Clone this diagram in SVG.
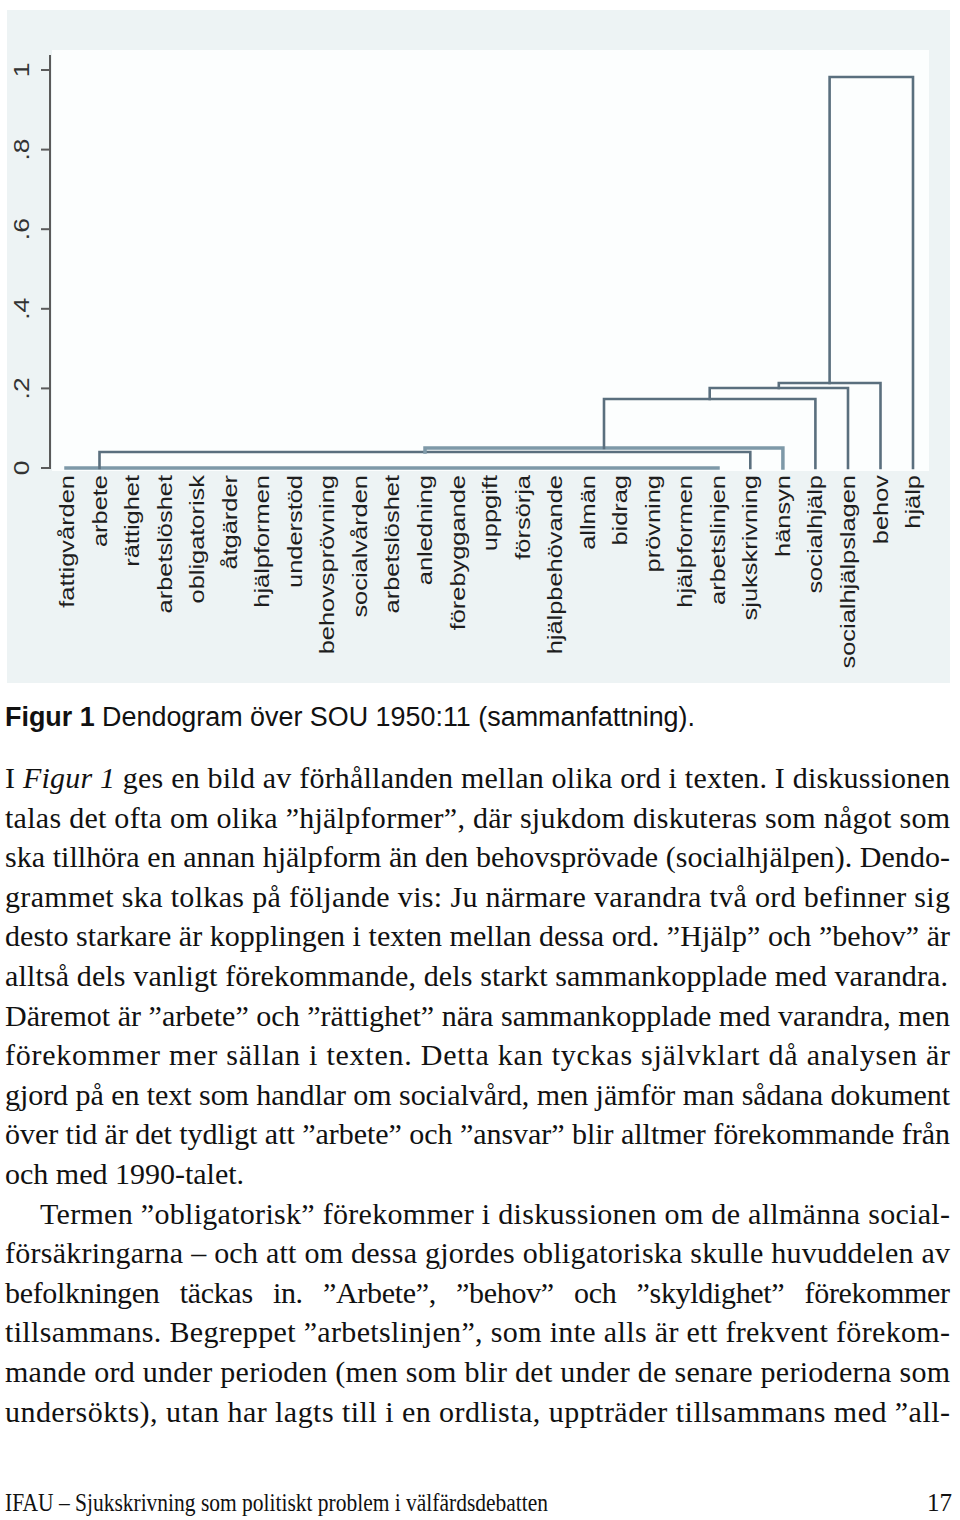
<svg xmlns="http://www.w3.org/2000/svg" width="960" height="1520" viewBox="0 0 960 1520">
<defs>
<style>
.lbl{font-family:"Liberation Sans",Arial,sans-serif;font-size:20px;fill:#1e1e1e}
.tk{font-family:"Liberation Sans",Arial,sans-serif;font-size:22px;fill:#333}
.br{fill:none;stroke:#5a6f7e;stroke-width:2.6;stroke-linecap:square}
.bl{fill:none;stroke:#7e99a8;stroke-width:3.5;stroke-linecap:square}
.body{font-family:"Liberation Serif","Times New Roman",serif;font-size:30px;fill:#111}
.cap{font-family:"Liberation Sans",Arial,sans-serif;font-size:27px;fill:#111}
</style>
</defs>
<rect width="960" height="1520" fill="#ffffff"/>
<g id="chart-panel">
<rect x="7" y="10" width="943" height="673" fill="#edf3f4"/>
<rect x="52" y="50" width="877" height="421" fill="#fcfefe"/>
</g>
<g id="y-axis">
<line x1="50" y1="55" x2="50" y2="469" stroke="#5a5a5a" stroke-width="2"/>
<g stroke="#5a5a5a" stroke-width="2">
<line x1="41" y1="468" x2="50" y2="468"/>
<line x1="41" y1="388.4" x2="50" y2="388.4"/>
<line x1="41" y1="308.8" x2="50" y2="308.8"/>
<line x1="41" y1="229.2" x2="50" y2="229.2"/>
<line x1="41" y1="149.6" x2="50" y2="149.6"/>
<line x1="41" y1="70" x2="50" y2="70"/>
</g>
<text class="tk" text-anchor="middle" transform="translate(29,468) rotate(-90) scale(1.2,1)">0</text>
<text class="tk" text-anchor="middle" transform="translate(29,388.4) rotate(-90) scale(1.2,1)">.2</text>
<text class="tk" text-anchor="middle" transform="translate(29,308.8) rotate(-90) scale(1.2,1)">.4</text>
<text class="tk" text-anchor="middle" transform="translate(29,229.2) rotate(-90) scale(1.2,1)">.6</text>
<text class="tk" text-anchor="middle" transform="translate(29,149.6) rotate(-90) scale(1.2,1)">.8</text>
<text class="tk" text-anchor="middle" transform="translate(29,70) rotate(-90) scale(1.2,1)">1</text>
</g>
<g id="connectors">
<path class="bl" d="M66 468 H718"/>
<path class="br" d="M99.5 468 V452 H750.3 V468"/>
<path class="bl" d="M425 452 V448 H782.9 V468"/>
<path class="br" d="M604 448 V399 H815.4 V468"/>
<path class="br" d="M709.7 399 V388 H848 V468"/>
<path class="br" d="M778.8 388 V383 H880.5 V468"/>
<path class="br" d="M829.6 383 V77 H913 V468"/>
</g>
<g id="leaves">
<g id="leaf-0"><text class="lbl" text-anchor="end" y="7" transform="translate(67,475) rotate(-90) scale(1.27,1)">fattigvården</text></g>
<g id="leaf-1"><text class="lbl" text-anchor="end" y="7" transform="translate(99.5,475) rotate(-90) scale(1.27,1)">arbete</text></g>
<g id="leaf-2"><text class="lbl" text-anchor="end" y="7" transform="translate(132.1,475) rotate(-90) scale(1.27,1)">rättighet</text></g>
<g id="leaf-3"><text class="lbl" text-anchor="end" y="7" transform="translate(164.6,475) rotate(-90) scale(1.27,1)">arbetslöshet</text></g>
<g id="leaf-4"><text class="lbl" text-anchor="end" y="7" transform="translate(197.2,475) rotate(-90) scale(1.27,1)">obligatorisk</text></g>
<g id="leaf-5"><text class="lbl" text-anchor="end" y="7" transform="translate(229.7,475) rotate(-90) scale(1.27,1)">åtgärder</text></g>
<g id="leaf-6"><text class="lbl" text-anchor="end" y="7" transform="translate(262.2,475) rotate(-90) scale(1.27,1)">hjälpformen</text></g>
<g id="leaf-7"><text class="lbl" text-anchor="end" y="7" transform="translate(294.8,475) rotate(-90) scale(1.27,1)">understöd</text></g>
<g id="leaf-8"><text class="lbl" text-anchor="end" y="7" transform="translate(327.3,475) rotate(-90) scale(1.27,1)">behovsprövning</text></g>
<g id="leaf-9"><text class="lbl" text-anchor="end" y="7" transform="translate(359.9,475) rotate(-90) scale(1.27,1)">socialvården</text></g>
<g id="leaf-10"><text class="lbl" text-anchor="end" y="7" transform="translate(392.4,475) rotate(-90) scale(1.27,1)">arbetslöshet</text></g>
<g id="leaf-11"><text class="lbl" text-anchor="end" y="7" transform="translate(424.9,475) rotate(-90) scale(1.27,1)">anledning</text></g>
<g id="leaf-12"><text class="lbl" text-anchor="end" y="7" transform="translate(457.5,475) rotate(-90) scale(1.27,1)">förebyggande</text></g>
<g id="leaf-13"><text class="lbl" text-anchor="end" y="7" transform="translate(490,475) rotate(-90) scale(1.27,1)">uppgift</text></g>
<g id="leaf-14"><text class="lbl" text-anchor="end" y="7" transform="translate(522.6,475) rotate(-90) scale(1.27,1)">försörja</text></g>
<g id="leaf-15"><text class="lbl" text-anchor="end" y="7" transform="translate(555.1,475) rotate(-90) scale(1.27,1)">hjälpbehövande</text></g>
<g id="leaf-16"><text class="lbl" text-anchor="end" y="7" transform="translate(587.6,475) rotate(-90) scale(1.27,1)">allmän</text></g>
<g id="leaf-17"><text class="lbl" text-anchor="end" y="7" transform="translate(620.2,475) rotate(-90) scale(1.27,1)">bidrag</text></g>
<g id="leaf-18"><text class="lbl" text-anchor="end" y="7" transform="translate(652.7,475) rotate(-90) scale(1.27,1)">prövning</text></g>
<g id="leaf-19"><text class="lbl" text-anchor="end" y="7" transform="translate(685.3,475) rotate(-90) scale(1.27,1)">hjälpformen</text></g>
<g id="leaf-20"><text class="lbl" text-anchor="end" y="7" transform="translate(717.8,475) rotate(-90) scale(1.27,1)">arbetslinjen</text></g>
<g id="leaf-21"><text class="lbl" text-anchor="end" y="7" transform="translate(750.3,475) rotate(-90) scale(1.27,1)">sjukskrivning</text></g>
<g id="leaf-22"><text class="lbl" text-anchor="end" y="7" transform="translate(782.9,475) rotate(-90) scale(1.27,1)">hänsyn</text></g>
<g id="leaf-23"><text class="lbl" text-anchor="end" y="7" transform="translate(815.4,475) rotate(-90) scale(1.27,1)">socialhjälp</text></g>
<g id="leaf-24"><text class="lbl" text-anchor="end" y="7" transform="translate(848,475) rotate(-90) scale(1.27,1)">socialhjälpslagen</text></g>
<g id="leaf-25"><text class="lbl" text-anchor="end" y="7" transform="translate(880.5,475) rotate(-90) scale(1.27,1)">behov</text></g>
<g id="leaf-26"><text class="lbl" text-anchor="end" y="7" transform="translate(913,475) rotate(-90) scale(1.27,1)">hjälp</text></g>
</g>
<g id="caption">
<text class="cap" x="5" y="726" textLength="690" lengthAdjust="spacingAndGlyphs"><tspan font-weight="bold">Figur 1</tspan> Dendogram över SOU 1950:11 (sammanfattning).</text>
</g>
<g id="body-text" class="body">
<text x="5" y="788" textLength="945" lengthAdjust="spacing">I <tspan font-style="italic">Figur 1</tspan> ges en bild av förhållanden mellan olika ord i texten. I diskussionen</text>
<text x="5" y="827.6" textLength="945" lengthAdjust="spacing">talas det ofta om olika ”hjälpformer”, där sjukdom diskuteras som något som</text>
<text x="5" y="867.2" textLength="945" lengthAdjust="spacing">ska tillhöra en annan hjälpform än den behovsprövade (socialhjälpen). Dendo-</text>
<text x="5" y="906.8" textLength="945" lengthAdjust="spacing">grammet ska tolkas på följande vis: Ju närmare varandra två ord befinner sig</text>
<text x="5" y="946.4" textLength="945" lengthAdjust="spacing">desto starkare är kopplingen i texten mellan dessa ord. ”Hjälp” och ”behov” är</text>
<text x="5" y="986" textLength="943" lengthAdjust="spacing">alltså dels vanligt förekommande, dels starkt sammankopplade med varandra.</text>
<text x="5" y="1025.6" textLength="945" lengthAdjust="spacing">Däremot är ”arbete” och ”rättighet” nära sammankopplade med varandra, men</text>
<text x="5" y="1065.2" textLength="945" lengthAdjust="spacing">förekommer mer sällan i texten. Detta kan tyckas självklart då analysen är</text>
<text x="5" y="1104.8" textLength="945" lengthAdjust="spacing">gjord på en text som handlar om socialvård, men jämför man sådana dokument</text>
<text x="5" y="1144.4" textLength="945" lengthAdjust="spacing">över tid är det tydligt att ”arbete” och ”ansvar” blir alltmer förekommande från</text>
<text x="5" y="1184">och med 1990-talet.</text>
<text x="40" y="1223.6" textLength="910" lengthAdjust="spacing">Termen ”obligatorisk” förekommer i diskussionen om de allmänna social-</text>
<text x="5" y="1263.2" textLength="945" lengthAdjust="spacing">försäkringarna – och att om dessa gjordes obligatoriska skulle huvuddelen av</text>
<text x="5" y="1302.8" textLength="945" lengthAdjust="spacing" word-spacing="13">befolkningen täckas in. ”Arbete”, ”behov” och ”skyldighet” förekommer</text>
<text x="5" y="1342.4" textLength="945" lengthAdjust="spacing">tillsammans. Begreppet ”arbetslinjen”, som inte alls är ett frekvent förekom-</text>
<text x="5" y="1382" textLength="945" lengthAdjust="spacing">mande ord under perioden (men som blir det under de senare perioderna som</text>
<text x="5" y="1421.6" textLength="945" lengthAdjust="spacing">undersökts), utan har lagts till i en ordlista, uppträder tillsammans med ”all-</text>
</g>
<g id="footer" class="body">
<text x="5" y="1511" font-size="25" textLength="543" lengthAdjust="spacingAndGlyphs">IFAU – Sjukskrivning som politiskt problem i välfärdsdebatten</text>
<text x="952" y="1511" font-size="25" text-anchor="end">17</text>
</g>
</svg>
